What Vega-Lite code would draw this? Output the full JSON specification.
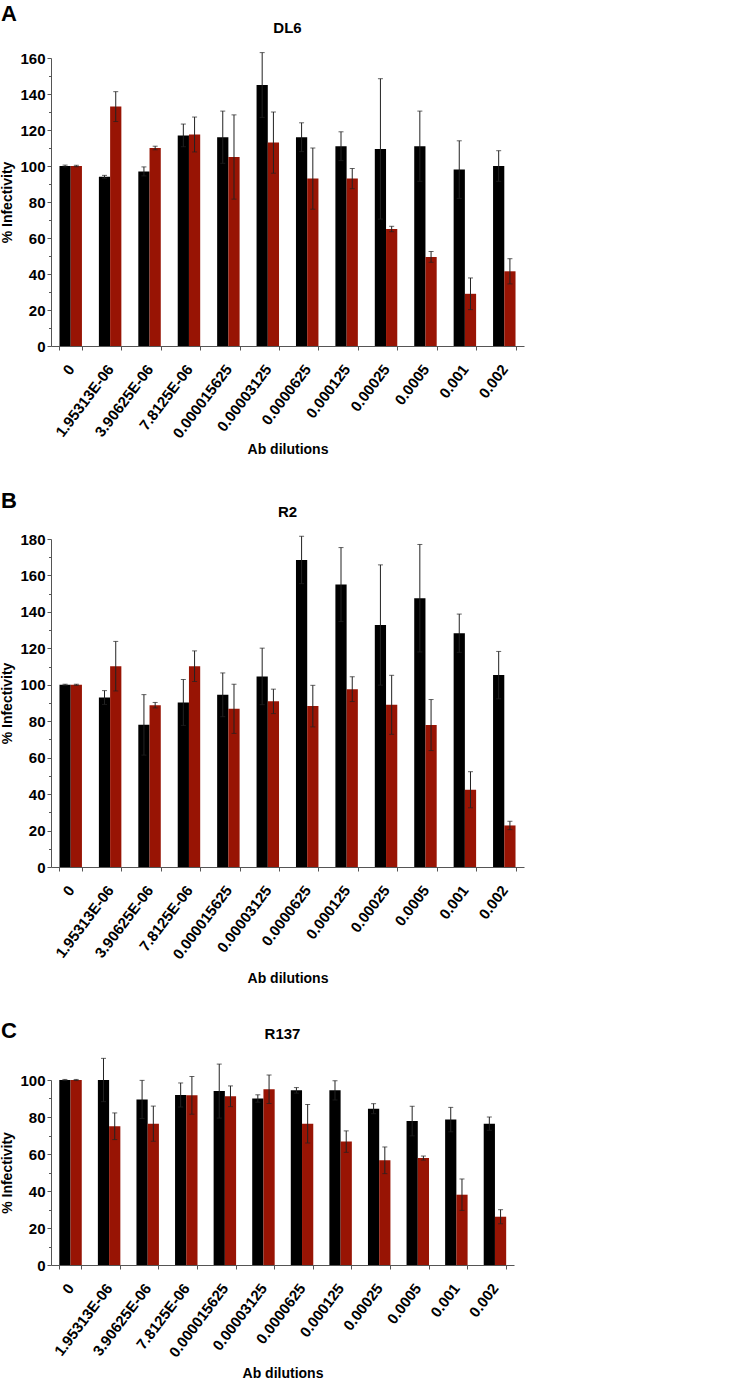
{
  "$schema": "https://vega.github.io/schema/vega-lite/v6.json",
  "padding": {"left": 0, "top": 3, "right": 5, "bottom": 0},
  "background": "white",
  "config": {
    "font": "Liberation Sans",
    "view": {"stroke": null},
    "axis": {"labelFont": "Liberation Sans", "titleFont": "Liberation Sans", "labelFontWeight": "bold", "titleFontWeight": "bold", "labelColor": "#000", "titleColor": "#000", "domainColor": "#555", "tickColor": "#555", "grid": false},
    "axisX": {"tickBand": "extent", "labelAngle": -53, "labelFontSize": 15, "titleFontSize": 14, "tickSize": 4, "labelPadding": 16, "titlePadding": 2, "labelOverlap": false},
    "axisY": {"labelFontSize": 15, "titleFontSize": 14, "tickSize": 4, "labelPadding": 2, "titlePadding": 5, "labelOverlap": false},
    "title": {"font": "Liberation Sans", "fontWeight": "bold", "color": "#000"}
  },
  "datasets": {
    "rows": [
      {"p":"DL6","d":"0","s":"a","v":100,"lo":99.5,"hi":100.5},
      {"p":"DL6","d":"1.95313E-06","s":"a","v":94,"lo":93.2,"hi":94.8},
      {"p":"DL6","d":"3.90625E-06","s":"a","v":97,"lo":94.5,"hi":99.5},
      {"p":"DL6","d":"7.8125E-06","s":"a","v":117,"lo":110.7,"hi":123.3},
      {"p":"DL6","d":"0.000015625","s":"a","v":116,"lo":101.5,"hi":130.5},
      {"p":"DL6","d":"0.00003125","s":"a","v":145,"lo":127,"hi":163},
      {"p":"DL6","d":"0.0000625","s":"a","v":116,"lo":108,"hi":124},
      {"p":"DL6","d":"0.000125","s":"a","v":111,"lo":103,"hi":119},
      {"p":"DL6","d":"0.00025","s":"a","v":109.5,"lo":70.5,"hi":148.5},
      {"p":"DL6","d":"0.0005","s":"a","v":111,"lo":91.5,"hi":130.5},
      {"p":"DL6","d":"0.001","s":"a","v":98,"lo":82,"hi":114},
      {"p":"DL6","d":"0.002","s":"a","v":100,"lo":91.5,"hi":108.5},
      {"p":"DL6","d":"0","s":"b","v":100,"lo":99.6,"hi":100.4},
      {"p":"DL6","d":"1.95313E-06","s":"b","v":133,"lo":124.7,"hi":141.3},
      {"p":"DL6","d":"3.90625E-06","s":"b","v":110,"lo":109,"hi":111},
      {"p":"DL6","d":"7.8125E-06","s":"b","v":117.5,"lo":107.8,"hi":127.2},
      {"p":"DL6","d":"0.000015625","s":"b","v":105,"lo":81.6,"hi":128.4},
      {"p":"DL6","d":"0.00003125","s":"b","v":113,"lo":96,"hi":130},
      {"p":"DL6","d":"0.0000625","s":"b","v":93,"lo":76,"hi":110},
      {"p":"DL6","d":"0.000125","s":"b","v":93,"lo":87.4,"hi":98.6},
      {"p":"DL6","d":"0.00025","s":"b","v":65,"lo":63.5,"hi":66.5},
      {"p":"DL6","d":"0.0005","s":"b","v":49.5,"lo":46.5,"hi":52.5},
      {"p":"DL6","d":"0.001","s":"b","v":29,"lo":20.2,"hi":37.8},
      {"p":"DL6","d":"0.002","s":"b","v":41.5,"lo":34.5,"hi":48.5},
      {"p":"R2","d":"0","s":"a","v":100,"lo":99.7,"hi":100.3},
      {"p":"R2","d":"1.95313E-06","s":"a","v":93,"lo":89.2,"hi":96.8},
      {"p":"R2","d":"3.90625E-06","s":"a","v":78,"lo":61.4,"hi":94.6},
      {"p":"R2","d":"7.8125E-06","s":"a","v":90.3,"lo":77.7,"hi":102.9},
      {"p":"R2","d":"0.000015625","s":"a","v":94.5,"lo":82.5,"hi":106.5},
      {"p":"R2","d":"0.00003125","s":"a","v":104.6,"lo":89.1,"hi":120.1},
      {"p":"R2","d":"0.0000625","s":"a","v":168.5,"lo":155.5,"hi":181.5},
      {"p":"R2","d":"0.000125","s":"a","v":155,"lo":134.7,"hi":175.3},
      {"p":"R2","d":"0.00025","s":"a","v":132.8,"lo":99.8,"hi":165.8},
      {"p":"R2","d":"0.0005","s":"a","v":147.5,"lo":118,"hi":177},
      {"p":"R2","d":"0.001","s":"a","v":128.3,"lo":117.8,"hi":138.8},
      {"p":"R2","d":"0.002","s":"a","v":105.3,"lo":92.3,"hi":118.3},
      {"p":"R2","d":"0","s":"b","v":100,"lo":99.7,"hi":100.3},
      {"p":"R2","d":"1.95313E-06","s":"b","v":110.2,"lo":96.6,"hi":123.8},
      {"p":"R2","d":"3.90625E-06","s":"b","v":88.8,"lo":87.3,"hi":90.3},
      {"p":"R2","d":"7.8125E-06","s":"b","v":110.2,"lo":101.8,"hi":118.6},
      {"p":"R2","d":"0.000015625","s":"b","v":86.8,"lo":73.3,"hi":100.3},
      {"p":"R2","d":"0.00003125","s":"b","v":90.9,"lo":84.2,"hi":97.6},
      {"p":"R2","d":"0.0000625","s":"b","v":88.3,"lo":76.9,"hi":99.7},
      {"p":"R2","d":"0.000125","s":"b","v":97.6,"lo":90.8,"hi":104.4},
      {"p":"R2","d":"0.00025","s":"b","v":89,"lo":72.8,"hi":105.2},
      {"p":"R2","d":"0.0005","s":"b","v":77.9,"lo":63.9,"hi":91.9},
      {"p":"R2","d":"0.001","s":"b","v":42.4,"lo":32.5,"hi":52.3},
      {"p":"R2","d":"0.002","s":"b","v":22.8,"lo":20.5,"hi":25.1},
      {"p":"R137","d":"0","s":"a","v":100,"lo":99.7,"hi":100.3},
      {"p":"R137","d":"1.95313E-06","s":"a","v":100,"lo":88.3,"hi":111.7},
      {"p":"R137","d":"3.90625E-06","s":"a","v":89.5,"lo":79.2,"hi":99.8},
      {"p":"R137","d":"7.8125E-06","s":"a","v":91.9,"lo":85.4,"hi":98.4},
      {"p":"R137","d":"0.000015625","s":"a","v":94,"lo":79.4,"hi":108.6},
      {"p":"R137","d":"0.00003125","s":"a","v":90,"lo":88,"hi":92},
      {"p":"R137","d":"0.0000625","s":"a","v":94.4,"lo":92.9,"hi":95.9},
      {"p":"R137","d":"0.000125","s":"a","v":94.4,"lo":89.2,"hi":99.6},
      {"p":"R137","d":"0.00025","s":"a","v":84.5,"lo":81.8,"hi":87.2},
      {"p":"R137","d":"0.0005","s":"a","v":77.8,"lo":69.8,"hi":85.8},
      {"p":"R137","d":"0.001","s":"a","v":78.6,"lo":72,"hi":85.2},
      {"p":"R137","d":"0.002","s":"a","v":76.4,"lo":72.8,"hi":80},
      {"p":"R137","d":"0","s":"b","v":100,"lo":99.7,"hi":100.3},
      {"p":"R137","d":"1.95313E-06","s":"b","v":75,"lo":67.8,"hi":82.2},
      {"p":"R137","d":"3.90625E-06","s":"b","v":76.4,"lo":66.9,"hi":85.9},
      {"p":"R137","d":"7.8125E-06","s":"b","v":91.7,"lo":81.5,"hi":101.9},
      {"p":"R137","d":"0.000015625","s":"b","v":91.2,"lo":85.6,"hi":96.8},
      {"p":"R137","d":"0.00003125","s":"b","v":95,"lo":87.3,"hi":102.7},
      {"p":"R137","d":"0.0000625","s":"b","v":76.4,"lo":66,"hi":86.8},
      {"p":"R137","d":"0.000125","s":"b","v":66.7,"lo":60.9,"hi":72.5},
      {"p":"R137","d":"0.00025","s":"b","v":56.6,"lo":49.4,"hi":63.8},
      {"p":"R137","d":"0.0005","s":"b","v":57.8,"lo":56.7,"hi":58.9},
      {"p":"R137","d":"0.001","s":"b","v":38,"lo":29.5,"hi":46.5},
      {"p":"R137","d":"0.002","s":"b","v":26.1,"lo":22.3,"hi":29.9}
    ]
  },
  "spacing": 33,
  "vconcat": [
    {
      "title": {"text": "A", "anchor": "start", "frame": "bounds", "fontSize": 22, "offset": -3, "dy": 2},
      "vconcat": [
        {
          "width": 473, "height": 288,
          "title": {"text": "DL6", "fontSize": 15, "offset": 15, "anchor": "middle", "frame": "group"},
          "data": {"name": "rows"},
          "transform": [{"filter": "datum.p === 'DL6'"}],
          "resolve": {"axis": {"y": "independent"}},
          "encoding": {
            "x": {"field": "d", "type": "nominal", "sort": null, "title": "Ab dilutions",
                  "scale": {"paddingInner": 0.43, "paddingOuter": 0.215}},
            "xOffset": {"field": "s", "type": "nominal", "scale": {"paddingInner": 0, "paddingOuter": 0}}
          },
          "layer": [
            {"mark": {"type": "bar"},
             "encoding": {
               "y": {"field": "v", "type": "quantitative", "title": "% Infectivity", "scale": {"domain": [0, 160], "nice": false}, "axis": {"orient": "left", "values": [0, 20, 40, 60, 80, 100, 120, 140, 160]}},
               "color": {"field": "s", "type": "nominal", "scale": {"domain": ["a", "b"], "range": ["#000000", "#981404"]}, "legend": null}
             }},
            {"mark": {"type": "rule", "color": "#222", "strokeWidth": 1},
             "encoding": {"y": {"field": "lo", "type": "quantitative", "scale": {"domain": [0, 160], "nice": false}, "axis": null}, "y2": {"field": "hi"}}},
            {"mark": {"type": "tick", "color": "#222", "thickness": 1, "size": 5},
             "encoding": {"y": {"field": "hi", "type": "quantitative", "scale": {"domain": [0, 160], "nice": false}, "axis": null}}},
            {"mark": {"type": "tick", "color": "#222", "thickness": 1, "size": 5},
             "encoding": {"y": {"field": "lo", "type": "quantitative", "scale": {"domain": [0, 160], "nice": false}, "axis": {"orient": "left", "values": [10, 30, 50, 70, 90, 110, 130, 150], "labels": false, "domain": false, "title": null, "tickSize": 2.5}}}}
          ]
        }
      ]
    },
    {
      "title": {"text": "B", "anchor": "start", "frame": "bounds", "fontSize": 22, "offset": 0, "dy": 8},
      "vconcat": [
        {
          "width": 473, "height": 328,
          "title": {"text": "R2", "fontSize": 15, "offset": 12, "anchor": "middle", "frame": "group"},
          "data": {"name": "rows"},
          "transform": [{"filter": "datum.p === 'R2'"}],
          "resolve": {"axis": {"y": "independent"}},
          "encoding": {
            "x": {"field": "d", "type": "nominal", "sort": null, "title": "Ab dilutions",
                  "scale": {"paddingInner": 0.43, "paddingOuter": 0.215}, "axis": {"titlePadding": 10}},
            "xOffset": {"field": "s", "type": "nominal", "scale": {"paddingInner": 0, "paddingOuter": 0}}
          },
          "layer": [
            {"mark": {"type": "bar"},
             "encoding": {
               "y": {"field": "v", "type": "quantitative", "title": "% Infectivity", "scale": {"domain": [0, 180], "nice": false}, "axis": {"orient": "left", "values": [0, 20, 40, 60, 80, 100, 120, 140, 160, 180]}},
               "color": {"field": "s", "type": "nominal", "scale": {"domain": ["a", "b"], "range": ["#000000", "#981404"]}, "legend": null}
             }},
            {"mark": {"type": "rule", "color": "#222", "strokeWidth": 1},
             "encoding": {"y": {"field": "lo", "type": "quantitative", "scale": {"domain": [0, 180], "nice": false}, "axis": null}, "y2": {"field": "hi"}}},
            {"mark": {"type": "tick", "color": "#222", "thickness": 1, "size": 5},
             "encoding": {"y": {"field": "hi", "type": "quantitative", "scale": {"domain": [0, 180], "nice": false}, "axis": null}}},
            {"mark": {"type": "tick", "color": "#222", "thickness": 1, "size": 5},
             "encoding": {"y": {"field": "lo", "type": "quantitative", "scale": {"domain": [0, 180], "nice": false}, "axis": {"orient": "left", "values": [10, 30, 50, 70, 90, 110, 130, 150, 170], "labels": false, "domain": false, "title": null, "tickSize": 2.5}}}}
          ]
        }
      ]
    },
    {
      "title": {"text": "C", "anchor": "start", "frame": "bounds", "fontSize": 22, "offset": 6, "dy": 22},
      "vconcat": [
        {
          "width": 463, "height": 185,
          "title": {"text": "R137", "fontSize": 15, "offset": 16, "anchor": "middle", "frame": "group"},
          "data": {"name": "rows"},
          "transform": [{"filter": "datum.p === 'R137'"}],
          "resolve": {"axis": {"y": "independent"}},
          "encoding": {
            "x": {"field": "d", "type": "nominal", "sort": null, "title": "Ab dilutions",
                  "scale": {"paddingInner": 0.43, "paddingOuter": 0.215}, "axis": {"titlePadding": 7}},
            "xOffset": {"field": "s", "type": "nominal", "scale": {"paddingInner": 0, "paddingOuter": 0}}
          },
          "layer": [
            {"mark": {"type": "bar"},
             "encoding": {
               "y": {"field": "v", "type": "quantitative", "title": "% Infectivity", "scale": {"domain": [0, 100], "nice": false}, "axis": {"orient": "left", "values": [0, 20, 40, 60, 80, 100]}},
               "color": {"field": "s", "type": "nominal", "scale": {"domain": ["a", "b"], "range": ["#000000", "#981404"]}, "legend": null}
             }},
            {"mark": {"type": "rule", "color": "#222", "strokeWidth": 1},
             "encoding": {"y": {"field": "lo", "type": "quantitative", "scale": {"domain": [0, 100], "nice": false}, "axis": null}, "y2": {"field": "hi"}}},
            {"mark": {"type": "tick", "color": "#222", "thickness": 1, "size": 5},
             "encoding": {"y": {"field": "hi", "type": "quantitative", "scale": {"domain": [0, 100], "nice": false}, "axis": null}}},
            {"mark": {"type": "tick", "color": "#222", "thickness": 1, "size": 5},
             "encoding": {"y": {"field": "lo", "type": "quantitative", "scale": {"domain": [0, 100], "nice": false}, "axis": {"orient": "left", "values": [10, 30, 50, 70, 90], "labels": false, "domain": false, "title": null, "tickSize": 2.5}}}}
          ]
        }
      ]
    }
  ]
}
